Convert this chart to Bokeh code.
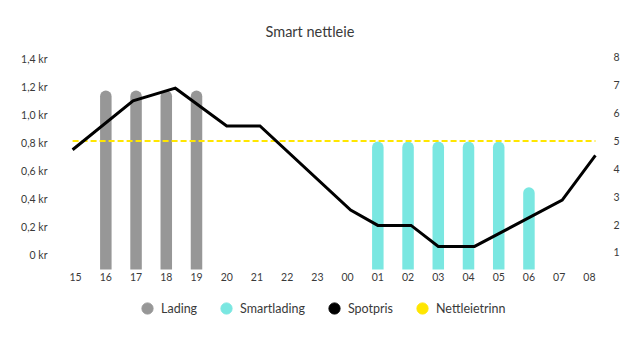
from bokeh.plotting import figure
from bokeh.layouts import column
from bokeh.models import Range1d, LinearAxis, FixedTicker, Legend, LegendItem
from bokeh.embed import file_html
from bokeh.resources import INLINE

# ---- data ----
hours = ["15", "16", "17", "18", "19", "20", "21", "22", "23",
         "00", "01", "02", "03", "04", "05", "06", "07", "08"]
lading_hours = ["16", "17", "18", "19"]
lading_vals = [6.6, 6.6, 6.6, 6.6]               # right-axis units
smart_hours = ["01", "02", "03", "04", "05", "06"]
smart_vals = [4.77, 4.77, 4.77, 4.77, 4.77, 3.13]  # right-axis units
spot_x = [-0.1, 1.9, 3.3, 5.0, 6.1, 9.1, 10.0, 11.1, 12.0, 13.2, 16.1, 17.2]
spot_kr = [0.75, 1.10, 1.19, 0.92, 0.92, 0.32, 0.21, 0.21, 0.06, 0.06, 0.39, 0.71]
nettleie_trinn = 5
kr_ticks = [0, 0.2, 0.4, 0.6, 0.8, 1.0, 1.2, 1.4]
kr_labels = ["0 kr", "0,2 kr", "0,4 kr", "0,6 kr", "0,8 kr", "1,0 kr", "1,2 kr", "1,4 kr"]
trinn_ticks = [1, 2, 3, 4, 5, 6, 7, 8]
legend_names = ["Lading", "Smartlading", "Spotpris", "Nettleietrinn"]

GRAY = "#979797"
CYAN = "#7ae7e1"
YELLOW = "#ffe600"
FONT = "Lato"
TXT = "#3a3a3a"

p = figure(width=642, height=292, output_backend="svg", toolbar_location=None,
           x_range=Range1d(-0.5, 17.5), y_range=Range1d(-0.105, 1.502),
           title="Smart nettleie")
p.extra_y_ranges = {"trinn": Range1d(0.39, 8.455)}
p.min_border_left = 60
p.min_border_right = 38
p.min_border_top = 44
p.min_border_bottom = 23
p.outline_line_color = None
p.xgrid.visible = False
p.ygrid.visible = False

p.title.text_font = FONT
p.title.text_font_size = "14.5px"
p.title.text_font_style = "normal"
p.title.text_color = TXT
p.title.align = "left"
p.title.offset = 205

# bars (rounded tops via round line caps)
bottom = p.extra_y_ranges["trinn"].start - 1
lx = [hours.index(h) for h in lading_hours]
sx = [hours.index(h) for h in smart_hours]
p.segment(x0=lx, x1=lx, y0=bottom, y1=lading_vals, y_range_name="trinn",
          line_color=GRAY, line_width=11.5, line_cap="round")
p.segment(x0=sx, x1=sx, y0=bottom, y1=smart_vals, y_range_name="trinn",
          line_color=CYAN, line_width=11.5, line_cap="round")

# nettleie dashed line
p.line(x=[spot_x[0], spot_x[-1]], y=[nettleie_trinn, nettleie_trinn], y_range_name="trinn",
       line_color=YELLOW, line_width=2, line_dash="6 3")
# spot line
p.line(x=spot_x, y=spot_kr, line_color="black", line_width=3, line_join="miter")

# axes
xa = p.xaxis[0]
xa.ticker = FixedTicker(ticks=list(range(len(hours))))
xa.major_label_overrides = {i: h for i, h in enumerate(hours)}
ya = p.yaxis[0]
ya.ticker = FixedTicker(ticks=kr_ticks)
ya.major_label_overrides = {t: l for t, l in zip(kr_ticks, kr_labels)}
ra = LinearAxis(y_range_name="trinn", ticker=FixedTicker(ticks=trinn_ticks))
p.add_layout(ra, "right")

for ax, so in ((xa, 3), (ya, 13), (ra, 9)):
    ax.axis_line_color = None
    ax.major_tick_line_color = None
    ax.minor_tick_line_color = None
    ax.major_tick_out = 0
    ax.major_tick_in = 0
    ax.minor_tick_out = 0
    ax.major_label_standoff = so
    ax.major_label_text_font = FONT
    ax.major_label_text_font_size = "10.5px"
    ax.major_label_text_color = TXT

# legend strip below the chart (circle markers)
lg = figure(width=642, height=46, output_backend="svg", toolbar_location=None,
            x_axis_location=None, y_axis_location=None,
            x_range=Range1d(0, 1), y_range=Range1d(0, 1))
lg.min_border = 0
lg.outline_line_color = None
lg.xgrid.visible = False
lg.ygrid.visible = False
dummies = []
for c in (GRAY, CYAN, "black", YELLOW):
    r = lg.scatter(x=[-10], y=[-10], marker="circle", fill_color=c, line_color=c)
    dummies.append(r)
legend = Legend(items=[LegendItem(label=n, renderers=[r]) for n, r in zip(legend_names, dummies)],
                orientation="horizontal", location=(73, 16),
                glyph_width=28, glyph_height=28, label_standoff=-3, spacing=15,
                padding=0, margin=0, border_line_color=None, background_fill_alpha=0,
                label_text_font=FONT, label_text_font_size="12.5px", label_text_color=TXT)
lg.add_layout(legend, "center")

open("out.html", "w").write(file_html(column(p, lg, spacing=0), INLINE))
